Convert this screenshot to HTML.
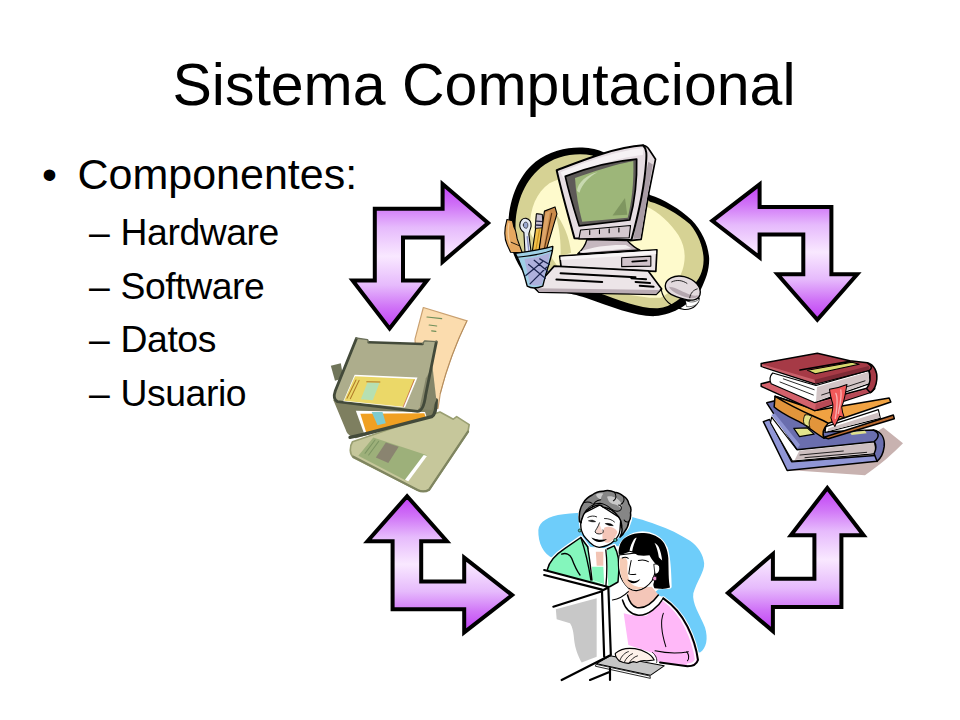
<!DOCTYPE html>
<html lang="es">
<head>
<meta charset="utf-8">
<title>Sistema Computacional</title>
<style>
html,body{margin:0;padding:0;background:#fff;}
body{width:960px;height:720px;position:relative;overflow:hidden;font-family:"Liberation Sans",Arial,sans-serif;color:#000;}
.t{position:absolute;white-space:nowrap;line-height:1;margin:0;}
#title{left:4px;width:960px;top:56px;font-size:59px;text-align:center;font-weight:normal;}
.l1{font-size:43px;left:77.5px;}
.b1{font-size:42.67px;left:42px;}
.l2{font-size:37.33px;left:120.5px;letter-spacing:-0.42px;}
.d2{font-size:37.33px;left:89px;}
svg{position:absolute;left:0;top:0;}
</style>
</head>
<body>
<h1 class="t" id="title">Sistema Computacional</h1>
<div class="t b1" style="top:153px">•</div>
<div class="t l1" style="top:153px">Componentes:</div>
<div class="t d2" style="top:213.6px">–</div><div class="t l2" style="top:213.6px">Hardware</div>
<div class="t d2" style="top:267.5px">–</div><div class="t l2" style="top:267.5px">Software</div>
<div class="t d2" style="top:321.4px">–</div><div class="t l2" style="top:321.4px">Datos</div>
<div class="t d2" style="top:375.3px">–</div><div class="t l2" style="top:375.3px">Usuario</div>
<svg width="960" height="720" viewBox="0 0 960 720">
<defs>
<linearGradient id="ag" x1="0" y1="0" x2="0" y2="1">
<stop offset="0" stop-color="#c03cf5"/><stop offset="0.15" stop-color="#d074f7"/><stop offset="0.3" stop-color="#e6bafc"/><stop offset="0.5" stop-color="#f9e8ff"/><stop offset="0.7" stop-color="#e6bafc"/><stop offset="0.85" stop-color="#d074f7"/><stop offset="1" stop-color="#c03cf5"/>
</linearGradient>
</defs>
<!-- ARROWS -->
<g id="arrows" fill="url(#ag)" stroke="#000" stroke-width="4" stroke-linejoin="miter">
<polygon points="374.8,208.8 442.6,208.8 442.6,184 488.1,222.9 442.6,261.8 442.6,237.4 403,237.4 403,280.4 427,280.4 389.6,328.6 352.6,280.4 374.8,280.4"/>
<polygon points="831.4,207.1 759.6,207.1 759.6,184.4 712.3,220.8 759.6,257.4 759.6,234.5 803.3,234.5 803.3,274.2 777.5,274.2 817.35,319.8 857.2,274.2 831.4,274.2"/>
<polygon points="392.6,609.2 392.6,541.2 367.5,541.2 407.1,496.2 446.9,541.2 421.2,541.2 421.2,581.5 464.2,581.5 464.2,557.7 512.1,595.1 464.2,632.3 464.2,609.2"/>
<polygon points="841.4,606.9 841.4,535.2 863.6,535.2 827.3,488 790.9,535.2 814.4,535.2 814.4,578.8 772.9,578.8 772.9,554 727.9,592.9 772.9,631.1 772.9,606.9"/>
</g>
<!-- CLIPART -->
<g id="computer" transform="translate(480,120) scale(0.27778)" stroke-linejoin="round" stroke-linecap="round">
<!-- blob -->
<path d="M102,392 C100,300 132,205 200,150 C262,103 345,92 400,103 C430,108 450,118 470,130 L612,270 C660,285 720,320 762,360 C800,400 822,450 825,498 C826,540 812,575 795,610 C760,660 700,700 630,706 C560,708 470,672 380,640 C350,630 320,624 300,620 L215,612 C150,560 104,475 102,392 Z" fill="#000"/>
<path d="M128,395 C126,315 152,228 218,172 C272,128 345,116 405,128 L612,294 C654,304 710,335 756,375 C790,415 805,465 805,504 C804,545 790,575 762,600 C730,640 690,672 640,678 C580,680 500,648 420,620 L215,595 C165,550 130,475 128,395 Z" fill="#d6d294"/>
<path d="M180,400 C176,330 200,262 250,228 C290,205 330,205 360,215 L600,312 C640,328 690,375 714,414 C740,455 742,500 729,540 C715,580 690,622 650,640 L610,640 L330,600 L240,470 C215,450 186,430 180,400 Z" fill="#fefacc"/>
<path d="M268,330 C300,370 322,420 328,478 L290,490 C292,430 285,380 268,330 Z" fill="#d6d294"/>
<!-- monitor side -->
<path d="M587,91 C598,92 604,98 610,108 L632,141 L607,266 L580,430 L540,434 Z" fill="#e3dade" stroke="#000" stroke-width="6"/>
<path d="M606,150 L622,160 L598,300 L578,425 L552,428 Z" fill="#a99ca5"/>
<!-- monitor face -->
<path d="M276,181 C345,155 480,98 587,91 C601,105 600,125 598,150 C592,250 570,340 545,432 L340,426 C320,350 296,270 276,181 Z" fill="#e6dde2" stroke="#000" stroke-width="7"/>
<path d="M290,188 C355,162 485,110 588,102 L586,126 C490,135 370,180 300,210 Z" fill="#f6f2f4"/>
<!-- screen -->
<path d="M307,203 C380,175 480,148 564,141 C566,220 555,300 539,360 L357,381 C338,320 322,270 307,203 Z" fill="#5e5a58" stroke="#000" stroke-width="6"/>
<path d="M342,209 C410,185 490,160 552,148 C554,230 546,295 532,352 L368,366 C355,318 345,262 342,209 Z" fill="#9db679"/>
<path d="M349,256 C352,225 385,196 424,188 C395,202 368,228 358,262 Z" fill="#c8d9b0"/>
<path d="M522,281 L530,341 L477,344 Z" fill="#7f9660"/>
<!-- vents -->
<path d="M362,396 L542,380 L537,424 L356,428 Z" fill="#d5c9cf" stroke="#000" stroke-width="4"/>
<path d="M395,398 v14 M430,395 v14 M465,392 v14 M500,389 v14" stroke="#000" stroke-width="4" fill="none"/>
<!-- stand -->
<path d="M385,430 L530,434 C545,450 560,462 575,468 L352,482 C368,468 380,450 385,430 Z" fill="#c5b7bf" stroke="#000" stroke-width="5"/>
<path d="M358,474 C410,455 470,448 525,450 L545,462 L370,478 Z" fill="#f3eef0"/>
<!-- cpu -->
<path d="M287,490 L637,467 L633,545 L292,530 Z" fill="#ebe4e7" stroke="#000" stroke-width="6"/>
<path d="M290,492 L634,470 L634,482 L290,504 Z" fill="#f8f5f6"/>
<path d="M510,496 L615,490 L615,526 L510,528 Z" fill="#cfc2c9" stroke="#000" stroke-width="4"/>
<path d="M548,510 L600,506" stroke="#000" stroke-width="6"/>
<!-- keyboard -->
<path d="M267,526 L605,543 L654,608 L634,628 L212,620 L197,605 Z" fill="#ece5e8" stroke="#000" stroke-width="6"/>
<path d="M205,606 L648,612 L634,626 L212,618 Z" fill="#b9abb3"/>
<path d="M290,552 L560,566 M275,574 L440,583 M560,583 L612,587 M545,570 L598,573 M575,597 L625,600" stroke="#000" stroke-width="7" fill="none"/>
<!-- mouse -->
<path d="M652,610 C660,650 690,675 735,682 C770,684 790,660 787,640" fill="none" stroke="#000" stroke-width="4"/>
<path d="M740,650 C760,660 785,655 790,640 C792,660 770,675 745,672 Z" fill="#fff" stroke="#000" stroke-width="2"/>
<path d="M667,598 C667,572 700,556 735,564 C775,574 798,602 792,628 C786,650 760,652 735,645 C700,635 667,625 667,598 Z" fill="#e3dade" stroke="#000" stroke-width="5"/>
<path d="M680,600 C690,620 720,632 750,640 C770,645 785,640 790,628 C780,636 760,632 740,622 C715,610 695,600 680,600 Z" fill="#b5a7af"/>
<path d="M690,583 C710,573 730,578 745,588 M755,640 C758,622 768,612 782,608" stroke="#000" stroke-width="3" fill="none"/>
<!-- crayon -->
<path d="M97,358 L117,363 L122,385 C132,400 130,412 134,428 L152,478 L110,476 L98,450 C86,425 88,390 97,358 Z" fill="#e6a860" stroke="#000" stroke-width="4"/>
<path d="M104,372 C100,395 100,420 108,445" stroke="#f4cc98" stroke-width="5" fill="none"/>
<path d="M112,440 L140,452" stroke="#000" stroke-width="3"/>
<!-- scissors -->
<path d="M143,378 C143,362 154,352 166,354 C178,356 186,368 184,382 C182,394 176,402 176,412 L184,476 L162,476 L158,405 C148,398 143,390 143,378 Z" fill="#e4eaf4" stroke="#000" stroke-width="4"/>
<path d="M156,378 C156,370 162,366 168,368 C174,372 174,384 168,390 C160,390 156,386 156,378 Z" fill="#9aa8d0" stroke="#000" stroke-width="2"/>
<path d="M170,420 L176,474" stroke="#8a90c0" stroke-width="5"/>
<!-- pencil -->
<path d="M204,338 L224,340 L228,390 L212,476 L188,476 L200,392 Z" fill="#f0c04a" stroke="#000" stroke-width="4"/>
<path d="M204,338 L224,340 L228,388 L200,390 Z" fill="#c8c0d0" stroke="#000" stroke-width="3"/>
<path d="M202,364 L227,366 M201,378 L228,380" stroke="#2a2a48" stroke-width="5"/>
<path d="M214,395 L200,474" stroke="#c89020" stroke-width="4"/>
<!-- ruler -->
<path d="M232,328 L270,313 L277,338 L238,470 L212,474 Z" fill="#c98a4a" stroke="#000" stroke-width="4"/>
<path d="M236,334 L252,328 L228,462 L216,470 Z" fill="#dca468"/>
<path d="M258,336 L232,462" stroke="#5a3010" stroke-width="4"/>
<!-- cup -->
<path d="M127,480 C170,474 230,464 262,455 C262,480 250,510 237,555 L226,598 C206,606 184,606 170,598 C158,550 145,512 127,480 Z" fill="#9fd0e6" stroke="#000" stroke-width="5"/>
<path d="M160,500 C195,496 228,488 252,478 C247,508 236,550 222,592 C206,597 192,597 180,592 Z" fill="#aeb0dc"/>
<path d="M134,494 C180,490 230,480 258,470" stroke="#000" stroke-width="4" fill="none"/>
<path d="M175,520 L235,570 M195,505 L245,545 M165,560 L225,510 M180,590 L240,530 M215,500 L250,520" stroke="#1c2550" stroke-width="4.5" fill="none"/>
</g>
<g id="floppy" transform="translate(325,300) scale(0.166667)" stroke-linejoin="round" stroke-linecap="round">
<!-- paper -->
<path d="M590,45 L852,125 C800,230 735,390 692,560 L678,650 L560,650 L540,235 Z" fill="#fbdcae" stroke="#c9a070" stroke-width="7"/>
<path d="M852,125 C800,230 735,390 692,560" fill="none" stroke="#b08858" stroke-width="5"/>
<path d="M612,102 L700,112 M625,150 L670,156 M640,185 L665,188" stroke="#6f8f5a" stroke-width="7" fill="none"/>
<!-- third disk (bottom) -->
<path d="M165,850 L690,672 L770,715 L790,700 L865,748 L858,790 L625,1138 C600,1150 575,1150 555,1140 L170,945 C148,925 145,880 165,850 Z" fill="#c6c79b" stroke="#9a9f72" stroke-width="10"/>
<path d="M170,940 L555,1140 C580,1152 605,1150 625,1138 L858,790" fill="none" stroke="#7f8560" stroke-width="14"/>
<path d="M290,825 L612,932 L482,1082 L200,935 Z" fill="#9db07a"/>
<path d="M592,930 L612,936 L500,1088 L480,1078 Z" fill="#ffffff"/>
<path d="M365,855 L442,880 L380,978 L305,945 Z" fill="#8a8470"/>
<path d="M240,920 L300,840 M262,930 L322,848" stroke="#7d9563" stroke-width="6" fill="none"/>
<!-- second disk -->
<path d="M50,600 L560,650 L662,600 L668,680 L640,700 L185,830 C150,820 130,800 125,780 Z" fill="#7e7f60"/>
<path d="M185,665 L600,672 L612,708 L235,802 Z" fill="#ffffff"/>
<path d="M212,682 L596,680 L606,708 L248,796 Z" fill="#f0a022"/>
<path d="M280,672 L345,672 L365,740 L315,752 Z" fill="#7ecbd0"/>
<path d="M150,824 L230,806 L640,700 C660,690 668,660 668,600" fill="none" stroke="#434a3a" stroke-width="20"/>
<!-- left tab -->
<path d="M35,395 L95,380 L110,470 L60,485 Z" fill="#70755a"/>
<!-- top disk -->
<path d="M185,228 L255,238 L262,252 L585,262 L598,245 L668,250 L640,420 L600,570 L555,668 L50,606 L60,545 Z" fill="#adad8c"/>
<path d="M605,470 L645,400 L668,600 L640,660 L565,655 Z" fill="#85866a"/>
<path d="M188,232 L62,545 C50,580 52,600 75,610 L555,668 C580,668 595,640 604,570 L668,252" fill="none" stroke="#434a3a" stroke-width="17"/>
<path d="M262,254 L585,264" fill="none" stroke="#434a3a" stroke-width="15"/>
<path d="M185,228 L255,238 L262,252 M585,262 L598,245 L668,250" fill="none" stroke="#6b705a" stroke-width="8"/>
<!-- label -->
<path d="M178,448 L555,465 L480,645 L110,608 Z" fill="#ffffff"/>
<path d="M180,458 L540,474 L468,640 L115,605 Z" fill="#ebd868"/>
<path d="M255,495 L327,497 L287,602 L215,596 Z" fill="#b6e0b2"/>
<path d="M250,490 L330,492 M186,480 L132,590 M205,482 L152,592" stroke="#b07a28" stroke-width="6" fill="none"/>
<path d="M535,480 L470,640" stroke="#b5482a" stroke-width="4" fill="none"/>
</g>
<g id="books" transform="translate(750,345) scale(0.166667)" stroke-linejoin="round" stroke-linecap="round">
<!-- shadow -->
<path d="M230,750 L690,782 C780,720 860,650 918,590 L800,495 L700,560 Z" fill="#c8b2b0"/>
<!-- blue book -->
<path d="M80,460 L117,447 L250,700 L770,662 L762,698 L223,753 Z" fill="#9096d6" stroke="#000" stroke-width="9"/>
<path d="M130,433 L280,627 L745,578 L755,652 L255,697 L123,467 Z" fill="#ffffff" stroke="#000" stroke-width="7"/>
<path d="M296,634 L745,586 L752,646 L268,690 Z" fill="#cdbfc0"/>
<path d="M300,660 L560,636 M330,676 L700,644" stroke="#000" stroke-width="5" fill="none"/>
<path d="M740,510 C790,520 810,560 805,610 C800,650 785,680 762,698 L745,652 C760,620 760,600 745,578 Z" fill="#6a6eae" stroke="#000" stroke-width="9"/>
<path d="M100,347 L150,335 L460,520 L740,510 C775,525 780,550 745,580 L282,628 Z" fill="#6a6eae" stroke="#000" stroke-width="9"/>
<path d="M128,420 L148,410 L300,598 L284,620 Z" fill="#8e94d2"/>
<path d="M263,500 L343,497 L385,535 L297,550 Z" fill="#e3e48c" stroke="#000" stroke-width="7"/>
<path d="M600,525 L690,515 L700,530 L610,540 Z" fill="#dfe08c"/>
<!-- orange book -->
<path d="M440,555 L860,420 L866,442 L470,562 Z" fill="#b9692f" stroke="#000" stroke-width="9"/>
<path d="M455,490 L770,388 L782,440 L450,525 Z" fill="#ffffff" stroke="#000" stroke-width="7"/>
<path d="M470,500 L770,405 L778,436 L465,518 Z" fill="#cdbfc0"/>
<path d="M150,308 L145,372 C200,420 280,450 330,480 C370,510 410,540 445,560 C430,530 440,500 470,470 L400,390 Z" fill="#e2953b" stroke="#000" stroke-width="9"/>
<path d="M330,420 C345,415 360,420 370,430 C355,450 350,470 360,495 L325,475 C318,455 320,435 330,420 Z" fill="#e4e38a" stroke="#000" stroke-width="5"/>
<path d="M150,308 L400,392 L835,318 L845,342 L470,470 C420,440 300,400 150,308 Z" fill="#f0a242" stroke="#000" stroke-width="9"/>
<!-- red book -->
<path d="M67,233 L127,217 L387,343 L735,250 L748,262 L729,282 L387,394 L67,248 Z" fill="#d4626c" stroke="#000" stroke-width="9"/>
<path d="M395,352 L735,256 L729,280 L390,390 Z" fill="#b84a56"/>
<path d="M136,168 L396,243 L712,152 L722,230 L390,346 L127,233 C116,210 120,185 136,168 Z" fill="#ffffff" stroke="#000" stroke-width="7"/>
<path d="M402,252 L710,162 L718,226 L396,338 Z" fill="#d2c5c6"/>
<path d="M180,222 L380,300 M200,203 L385,268 M430,300 L690,215" stroke="#000" stroke-width="5" fill="none"/>
<path d="M704,107 C745,118 765,160 761,205 C758,245 745,270 722,286 L700,262 C722,232 726,190 714,150 Z" fill="#a63a46" stroke="#000" stroke-width="9"/>
<path d="M67,111 L404,50 L599,95 L704,107 C732,124 736,140 716,152 L392,234 L67,128 Z" fill="#a63a46" stroke="#000" stroke-width="9"/>
<path d="M72,116 L388,208 L392,230 L72,128 Z" fill="#c8606a"/>
<path d="M388,208 L712,126 L716,148 L392,232 Z" fill="#7e2a36"/>
<path d="M345,152 L612,104 L655,116 L392,172 Z" fill="#d9d96f" stroke="#000" stroke-width="6"/>
<path d="M300,150 L600,98" stroke="#000" stroke-width="10" fill="none"/>
<!-- bookmark -->
<path d="M477,266 C510,262 550,250 582,237 C572,280 572,320 550,371 C552,400 560,420 566,436 L538,428 L509,489 C495,470 488,452 485,436 C495,400 498,370 497,355 C488,325 480,295 477,266 Z" fill="#f15a5a" stroke="#000" stroke-width="6"/>
<path d="M515,290 C530,320 522,380 512,440 M545,270 C552,310 540,360 530,410" stroke="#f9b0b0" stroke-width="8" fill="none"/>
</g>
<g id="people" transform="translate(530,480) scale(0.166667)" stroke-linejoin="round" stroke-linecap="round">
<!-- blue blob -->
<path d="M50,300 C55,250 110,215 200,205 C300,192 420,190 520,205 C600,215 690,240 760,268 C830,292 900,325 960,365 C1010,400 1040,450 1045,500 C1048,550 1000,610 980,680 C970,740 1020,810 1050,885 C1070,950 1060,1010 1020,1035 L700,1000 L400,700 L140,470 C80,445 48,380 50,300 Z" fill="#6ecdfa"/>
<!-- halos -->
<g fill="#fff" stroke="#fff" stroke-width="24">
<path d="M300,215 C300,150 350,95 420,75 C480,60 550,75 585,120 C615,165 610,230 585,280 C570,305 555,315 540,318 L510,350 L400,400 L312,300 Z"/>
<path d="M105,535 C115,490 150,450 210,410 L305,345 L360,420 L450,420 L505,395 C530,440 538,500 532,560 L528,612 L470,645 L105,560 Z"/>
<path d="M535,440 C535,380 580,335 650,322 C720,312 785,345 815,410 C835,470 835,560 838,640 L765,645 L700,700 L560,640 Z"/>
<path d="M800,710 C860,750 910,810 945,880 C980,950 1000,1020 1008,1080 C1000,1105 975,1118 945,1118 L780,1095 L700,900 Z"/>
</g>
<path d="M485,600 L560,600 L600,680 L800,700 L945,900 L1000,1080 L945,1118 L770,1090 L485,1060 Z" fill="#fff"/>
<path d="M505,395 L550,400 L560,650 L485,720 L485,640 Z" fill="#fff"/>
<!-- older woman: jacket -->
<path d="M105,535 C115,490 150,450 210,410 L305,345 L360,420 L450,420 L505,395 C530,440 538,500 532,560 L528,612 L470,645 L105,560 Z" fill="#84f6bc" stroke="#000" stroke-width="9"/>
<path d="M350,400 L460,410 L470,640 L370,600 Z" fill="#ffffff"/>
<path d="M372,520 L440,520 L445,625 L375,600 Z" fill="#84f6bc"/>
<path d="M395,430 L440,430 L440,515 L400,515 Z" fill="#f2c4b4"/>
<path d="M305,345 C330,420 350,500 365,600 M345,400 C360,480 365,540 372,600 M455,420 C465,500 462,570 455,640 M190,445 C215,435 240,445 250,470 C265,510 280,545 300,570" stroke="#000" stroke-width="8" fill="none"/>
<!-- older woman: face -->
<path d="M307,240 C298,285 312,330 340,355 C365,385 390,403 415,404 C450,400 485,385 507,363 C525,345 538,320 540,300 L545,230 L420,150 L320,200 Z" fill="#ffffff" stroke="#000" stroke-width="8"/>
<path d="M447,285 C475,275 510,285 524,310 C520,335 500,360 475,375 C455,380 440,372 435,350 C432,325 438,300 447,285 Z" fill="#f4c6b8"/>
<path d="M415,262 C405,285 392,305 394,318 C405,326 425,326 440,316 C430,300 425,280 415,262 Z" fill="#f8d6cc"/>
<path d="M347,224 C365,214 385,214 400,221 M447,231 C470,230 492,238 507,252" stroke="#000" stroke-width="5" fill="none"/>
<path d="M353,245 C365,238 382,240 394,250 C380,252 365,252 353,245 Z M453,262 C468,257 488,262 500,274 C484,274 466,272 453,262 Z" fill="#000" stroke="#000" stroke-width="3"/>
<path d="M417,257 C408,285 392,300 390,312 C398,324 415,326 428,322 M436,318 C440,312 441,306 438,300" stroke="#000" stroke-width="5" fill="none"/>
<path d="M368,345 C385,352 400,356 414,358 C432,360 448,358 462,354 C450,368 430,374 412,372 C394,370 378,360 368,345 Z" fill="#000"/>
<circle cx="299" cy="303" r="9" fill="#58c8a8" stroke="#000" stroke-width="4"/>
<circle cx="512" cy="360" r="10" fill="#58c8a8" stroke="#000" stroke-width="4"/>
<!-- older woman: hair -->
<path d="M297,250 C292,215 298,170 320,137 C335,112 352,100 373,90 C395,72 420,66 440,67 C462,60 488,64 507,73 C530,76 548,84 560,97 C580,108 590,125 593,143 C606,160 608,180 603,197 C606,218 602,236 593,250 C590,275 580,295 567,310 C560,325 550,336 540,343 C552,320 555,300 550,283 C552,260 545,240 533,223 C520,205 508,192 493,183 C478,172 460,166 440,163 C432,154 422,150 413,150 C400,152 385,156 373,163 C358,170 345,180 333,190 C322,202 316,216 313,230 C309,240 307,250 307,257 Z" fill="#868686" stroke="#000" stroke-width="9"/>
<path d="M462,100 C490,92 525,105 545,135 C552,150 552,165 548,178 C538,158 522,148 505,145 C488,143 475,135 470,122 Z M395,88 C408,80 425,78 440,82 C432,92 425,105 425,118 C412,112 400,100 395,88 Z" fill="#c9c9c9"/>
<path d="M333,190 C350,160 385,140 420,140 C450,142 470,160 490,175 C510,190 535,192 545,178 C552,165 545,150 532,150 M373,163 C380,140 400,120 425,118 M320,137 C340,130 360,132 373,140 M507,73 C520,95 518,115 500,125 M560,97 C570,120 560,140 545,145 M593,250 C580,255 570,250 565,240" stroke="#000" stroke-width="6" fill="none"/>
<!-- younger woman: sweater -->
<path d="M562,800 C600,812 640,815 660,814 C715,812 770,760 800,712 C850,745 900,800 935,860 C975,930 1000,1010 1008,1080 C1000,1105 975,1118 945,1118 L770,1090 L740,1040 L590,990 Z" fill="#ffb8f8"/>
<path d="M560,700 L585,690 L625,760 L690,770 L770,690 L800,710 L700,815 L610,810 L555,790 Z" fill="#ffffff"/>
<path d="M592,652 L730,640 L772,690 C740,730 690,775 640,765 C610,755 595,730 585,690 Z" fill="#f4c6b8"/>
<path d="M585,690 C595,730 610,755 640,765 C690,775 740,730 770,690 M555,720 C570,770 600,805 650,812 C710,815 770,760 800,710" stroke="#000" stroke-width="9" fill="none"/>
<path d="M800,722 C855,760 900,815 933,885 C966,952 986,1020 994,1076 C988,1096 968,1106 945,1106" stroke="#fff" stroke-width="9" fill="none"/>
<path d="M800,710 C860,750 910,810 945,880 C980,950 1000,1020 1008,1080 C1000,1105 975,1118 945,1118 L780,1095" stroke="#000" stroke-width="12" fill="none"/>
<path d="M800,800 C780,850 790,920 815,1000 M750,1025 C820,1040 900,1040 950,1030 M940,1030 C955,1050 955,1070 945,1085" stroke="#000" stroke-width="6" fill="none"/>
<path d="M495,720 C530,715 560,700 590,670" stroke="#000" stroke-width="7" fill="none"/>
<!-- younger woman: face -->
<path d="M535,450 C528,490 530,530 536,555 C542,585 560,620 593,650 C610,662 625,665 640,664 C660,660 680,652 693,643 C712,630 725,615 733,603 L750,560 L770,470 L700,430 Z" fill="#ffffff" stroke="#000" stroke-width="7"/>
<path d="M540,470 C535,520 540,570 560,610 C575,635 590,648 600,650 C625,662 650,660 690,640 C660,645 630,640 612,625 C590,600 580,560 585,500 C585,485 580,475 575,468 Z" fill="#f6ccb6"/>
<path d="M745,505 C770,500 785,520 780,545 C776,560 765,568 752,565 Z" fill="#fff" stroke="#000" stroke-width="5"/>
<path d="M553,468 C565,462 580,463 590,470 M650,483 C670,478 695,480 710,490 M607,483 C600,515 595,545 593,563 C605,570 620,568 635,565" stroke="#000" stroke-width="6" fill="none"/>
<path d="M583,597 C600,600 612,608 625,608 C640,606 650,600 662,594 C650,612 635,620 620,620 C605,618 592,610 583,597 Z" fill="#000"/>
<!-- younger woman: hair -->
<path d="M533,447 C530,430 532,412 537,397 C542,378 553,362 567,350 C585,336 605,327 627,323 C650,316 676,316 700,320 C725,324 748,332 767,343 C790,356 805,375 813,397 C824,420 828,445 830,470 L832,570 C833,600 835,625 840,645 C820,652 800,655 780,653 L747,650 C742,640 740,635 740,625 C745,610 748,590 750,565 C770,560 780,540 775,520 C772,508 765,503 755,505 C745,495 735,480 727,470 L717,452 C695,455 670,455 647,452 C630,440 612,432 597,430 C580,435 563,442 547,449 Z" fill="#000"/>
<path d="M597,424 C602,398 612,375 623,357 C628,350 634,347 640,347 C628,372 618,400 613,428 Z" fill="#fff"/>
<path d="M747,377 C758,384 768,394 773,403 C784,428 790,456 793,483 C786,476 780,470 773,463 C768,432 760,402 747,377 Z" fill="#fff"/>
<circle cx="749" cy="591" r="13" fill="#f29ad8" stroke="#000" stroke-width="4"/>
<!-- keyboard -->
<path d="M400,1102 L480,1055 L805,1115 L722,1172 Z" fill="#c6c6c6" stroke="#000" stroke-width="6"/>
<path d="M398,1106 L720,1176 L722,1190 L395,1118 Z" fill="#ffffff" stroke="#000" stroke-width="5"/>
<!-- hand -->
<path d="M512,1040 C540,1015 580,1005 630,1012 C680,1020 730,1045 745,1080 L700,1085 C680,1080 660,1085 640,1095 L620,1090 L590,1100 L560,1095 L535,1085 C520,1070 510,1055 512,1040 Z" fill="#fdf1ea" stroke="#000" stroke-width="7"/>
<path d="M540,1080 C550,1055 570,1035 590,1030 M565,1095 C575,1070 595,1050 615,1042 M595,1098 C605,1078 625,1060 645,1055 M735,1035 C755,1050 765,1075 760,1095" stroke="#000" stroke-width="5" fill="none"/>
<!-- monitor -->
<path d="M85,540 L470,642 L485,650 L485,1050 L190,1200 L85,1200 Z" fill="#ffffff"/>
<path d="M85,540 L470,642 L485,1050 M85,570 L432,658 M140,760 L432,668 L445,1060 M440,660 L470,645 M190,1200 L485,1050 M360,1200 L480,1150 M480,1130 L480,1200" stroke="#000" stroke-width="13" fill="none"/>
<path d="M155,775 L400,710 L400,1060 L310,1095 C290,1060 270,1010 265,960 C262,920 255,880 240,860 L160,835 Z" fill="#c8c8c8"/>
</g>
</svg>
</body>
</html>
